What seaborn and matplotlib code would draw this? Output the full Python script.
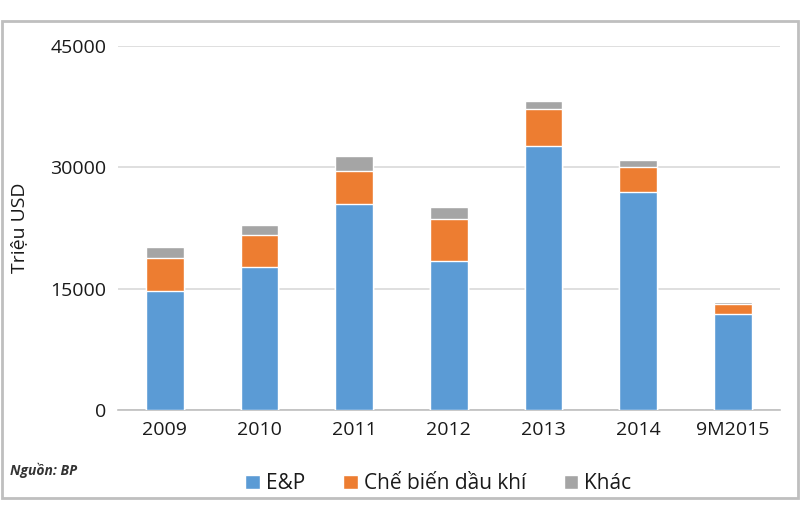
import matplotlib
matplotlib.use('Agg')
import matplotlib.pyplot as plt
from matplotlib.patches import Rectangle, Patch
import seaborn as sns
import numpy as np
import pandas as pd

years = ['2009', '2010', '2011', '2012', '2013', '2014', '9M2015']
ep = [14700, 17700, 25500, 18400, 32700, 27000, 11900]
che_bien = [4100, 3950, 4100, 5200, 4550, 3100, 1200]
khac = [1350, 1250, 1850, 1500, 1000, 850, 200]

series = ['E&P', 'Chế biến dầu khí', 'Khác']
colors = ['#5B9BD5', '#ED7D31', '#A5A5A5']

df = pd.DataFrame({'year': years, 'E&P': ep, 'Chế biến dầu khí': che_bien, 'Khác': khac})
cum = df[series].cumsum(axis=1)

sns.set_style('white')
plt.rcParams['font.family'] = ['Open Sans', 'DejaVu Sans']

fig = plt.figure(figsize=(8, 5.2), dpi=100)
ax = fig.add_axes([0.147, 0.2115, 0.828, 0.70])

# draw from top layer down so each stack sits on the one below
for name, color in zip(series[::-1], colors[::-1]):
    sns.barplot(x=df['year'], y=cum[name], color=color, width=0.4,
                saturation=1, ax=ax, zorder=3)

ax.set_ylim(0, 45000)
ax.set_yticks([0, 15000, 30000, 45000])
ax.grid(axis='y', color='#d9d9d9', linewidth=1.2, zorder=0)
for s in ['top', 'right', 'left']:
    ax.spines[s].set_visible(False)
ax.spines['bottom'].set_color('#bfbfbf')
ax.spines['bottom'].set_linewidth(1.2)
ax.tick_params(axis='both', length=0, labelsize=14, colors='#1a1a1a', pad=8)
ax.set_xlabel('')
ax.set_ylabel('Triệu USD', fontsize=14, color='#1a1a1a', labelpad=16)

handles = [Patch(facecolor=c, label=n) for n, c in zip(series, colors)]
fig.legend(handles=handles, loc='center', bbox_to_anchor=(0.548, 0.07), ncol=3,
           frameon=False, fontsize=15, handlelength=0.7, handleheight=0.7,
           handletextpad=0.3, columnspacing=1.8, labelcolor='#1a1a1a')

fig.text(0.013, 0.095, 'Nguồn: BP', fontsize=10, style='italic', fontweight='bold',
         color='#333333', va='center')

fig.patches.append(Rectangle((0.002, 0.042), 0.996, 0.918, transform=fig.transFigure,
                             fill=False, edgecolor='#bfbfbf', linewidth=2))

fig.savefig('out.png', dpi=100)
